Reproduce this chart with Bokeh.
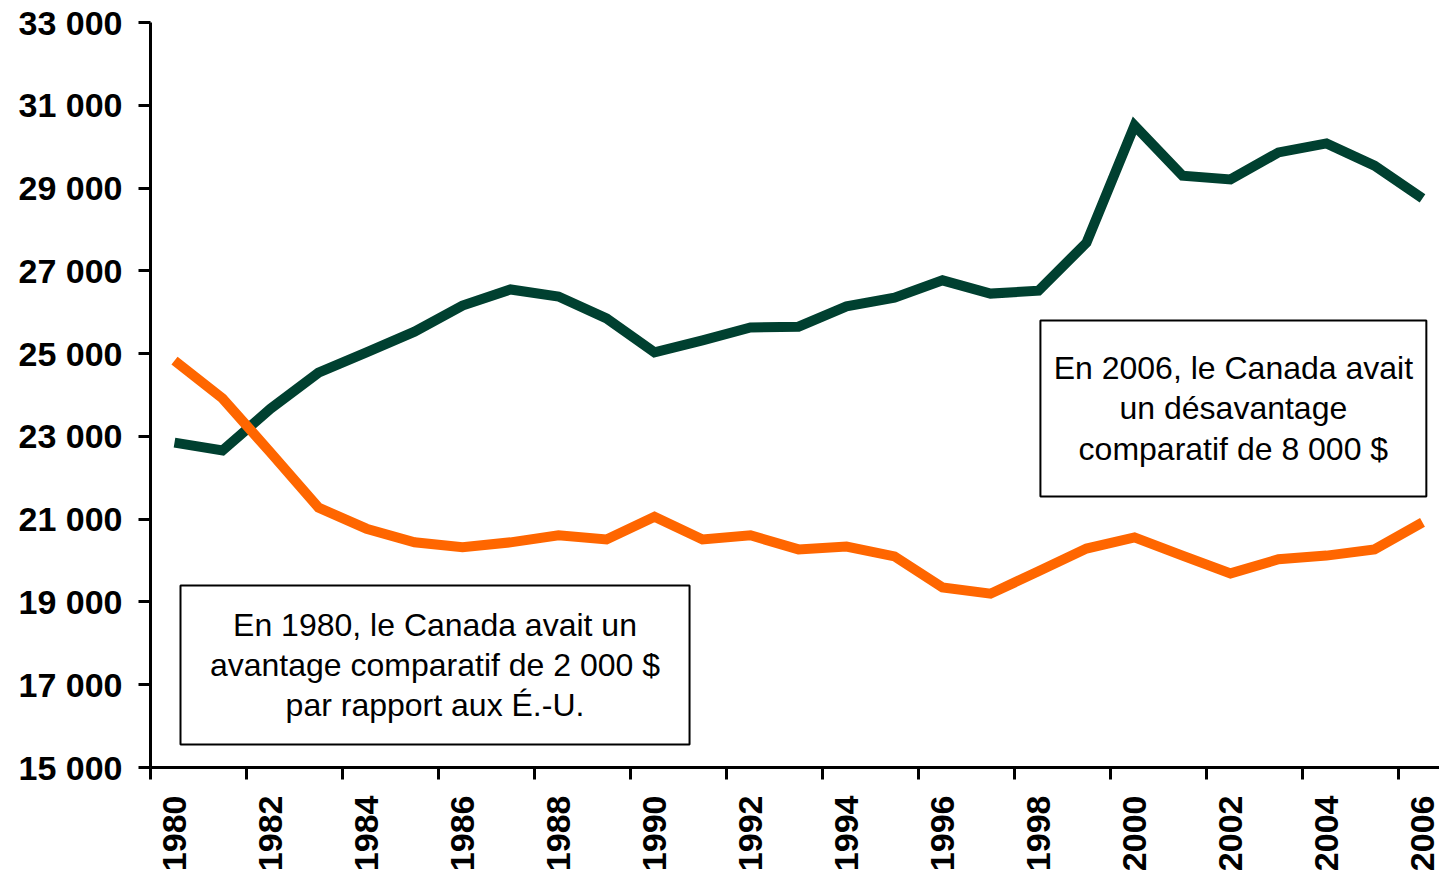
from bokeh.plotting import figure
from bokeh.models import FixedTicker, BoxAnnotation, Label, Range1d
from bokeh.embed import file_html
from bokeh.resources import INLINE

# ---- data ----
years = list(range(1980, 2007))
canada = [22850, 22660, 23670, 24540, 25030, 25530, 26160, 26550, 26380, 25850,
          25030, 25320, 25630, 25650, 26140, 26350, 26770, 26450, 26520, 27680,
          30510, 29300, 29210, 29860, 30080, 29540, 28750]
etats_unis = [24830, 23920, 22610, 21280, 20770, 20440, 20320, 20440, 20610, 20510,
              21060, 20510, 20610, 20270, 20340, 20100, 19350, 19200, 19740, 20290,
              20560, 20120, 19690, 20030, 20120, 20270, 20920]
y_ticks = list(range(15000, 33001, 2000))
x_label_years = years[::2]
note_1980 = "En 1980, le Canada avait un\navantage comparatif de 2 000 $\npar rapport aux É.-U."
note_2006 = "En 2006, le Canada avait\nun désavantage\ncomparatif de 8 000 $"

FONT = "Liberation Sans"
GREEN = "#004030"
ORANGE = "#FF6600"

p = figure(width=1439, height=874, output_backend="svg", toolbar_location=None,
           x_range=Range1d(1979.5, 1979.5 + 1289 / 48.0),
           y_range=Range1d(15000, 33000),
           min_border_left=150, min_border_right=0, min_border_top=22,
           min_border_bottom=107)
p.outline_line_color = None
p.grid.visible = False
p.background_fill_color = "white"
p.border_fill_color = "white"

p.line(years, canada, line_color=GREEN, line_width=10, line_join="miter")
p.line(years, etats_unis, line_color=ORANGE, line_width=10, line_join="miter")

# y axis
ya = p.yaxis[0]
ya.ticker = FixedTicker(ticks=y_ticks, minor_ticks=[])
ya.major_label_overrides = {v: f"{v:,}".replace(",", " ") for v in y_ticks}
ya.major_label_text_font = FONT
ya.major_label_text_font_style = "bold"
ya.major_label_text_font_size = "34px"
ya.major_label_text_color = "black"
ya.major_label_standoff = 16
ya.axis_line_width = 3
ya.axis_line_color = "black"
ya.major_tick_line_width = 3
ya.major_tick_line_color = "black"
ya.major_tick_out = 12
ya.major_tick_in = 0
ya.minor_tick_line_color = None

# x axis: labels at even years, tick marks at category boundaries
xa = p.xaxis[0]
boundaries = [y - 0.5 for y in x_label_years]
xa.ticker = FixedTicker(ticks=x_label_years, minor_ticks=boundaries)
xa.major_label_orientation = 1.5707963
xa.major_label_text_font = FONT
xa.major_label_text_font_style = "bold"
xa.major_label_text_font_size = "34px"
xa.major_label_text_color = "black"
xa.major_label_standoff = 16
xa.axis_line_width = 3
xa.axis_line_color = "black"
xa.major_tick_line_color = None
xa.major_tick_out = 12
xa.major_tick_in = 0
xa.minor_tick_line_color = "black"
xa.minor_tick_line_width = 3
xa.minor_tick_out = 12
xa.minor_tick_in = 0

# annotation boxes
def note(left, right, bottom, top, text):
    p.add_layout(BoxAnnotation(left=left, right=right, bottom=bottom, top=top,
                               fill_color="white", fill_alpha=1.0,
                               line_color="black", line_width=2, line_alpha=1.0))
    p.add_layout(Label(x=(left + right) / 2, y=(bottom + top) / 2, text=text,
                       text_align="center", text_baseline="middle",
                       text_font=FONT, text_font_size="32px",
                       text_color="black", text_line_height=1.12))

note(1980.125, 1990.73, 15556, 19397, note_1980)
note(1998.04, 2006.08, 21548, 25800, note_2006)

open("out.html", "w").write(file_html(p, INLINE))
